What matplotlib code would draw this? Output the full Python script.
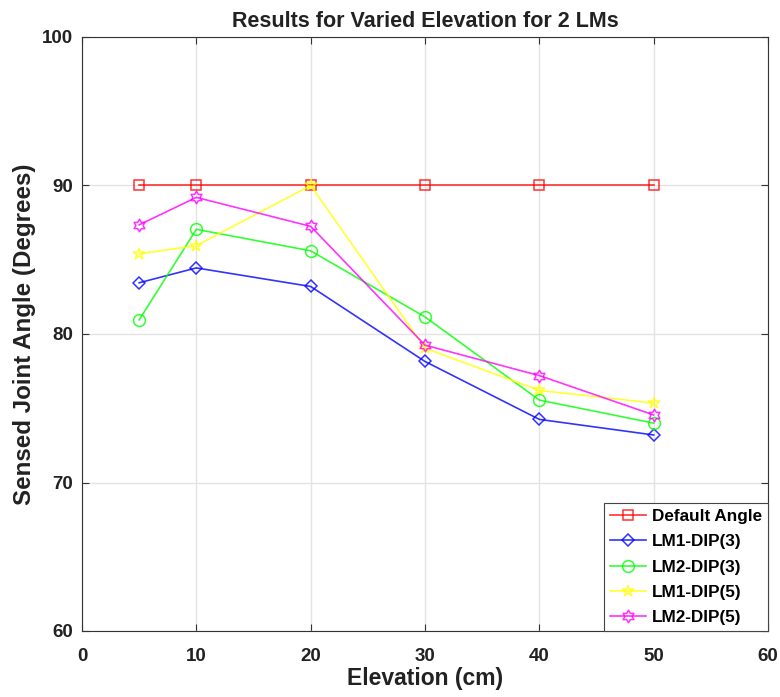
import matplotlib
matplotlib.use("Agg")
import matplotlib.pyplot as plt
import numpy as np
from matplotlib.path import Path

elevation = [5, 10, 20, 30, 40, 50]
default_angle = [90, 90, 90, 90, 90, 90]
lm1_dip3 = [83.45, 84.45, 83.2, 78.15, 74.25, 73.2]
lm2_dip3 = [80.95, 87.05, 85.6, 81.15, 75.55, 74.0]
lm1_dip5 = [85.4, 85.95, 90.0, 79.05, 76.2, 75.35]
lm2_dip5 = [87.35, 89.2, 87.25, 79.25, 77.2, 74.55]

xticks = [0, 10, 20, 30, 40, 50, 60]
yticks = [60, 70, 80, 90, 100]

# hexagram marker (six-pointed star), like MATLAB 'h'
ang = np.deg2rad(90 + 30 * np.arange(12))
rad = np.where(np.arange(12) % 2 == 0, 1.0, 1 / np.sqrt(3))
verts = np.column_stack([rad * np.cos(ang), rad * np.sin(ang)])
verts = np.vstack([verts, verts[:1]])
hexagram = Path(verts, [Path.MOVETO] + [Path.LINETO] * 11 + [Path.CLOSEPOLY])

plt.rcParams['font.family'] = ['Liberation Sans', 'DejaVu Sans']

fig = plt.figure(figsize=(7.8, 6.97), dpi=100)
ax = fig.add_axes([82/780, 1-631/697, (768-82)/780, (631-37)/697])

series = [
    (default_angle, '#ff0000', 's', 'Default Angle', 6.5),
    (lm1_dip3, '#0000ff', 'D', 'LM1-DIP(3)', 6.5),
    (lm2_dip3, '#00ff00', 'o', 'LM2-DIP(3)', 8.5),
    (lm1_dip5, '#ffff00', '*', 'LM1-DIP(5)', 9),
    (lm2_dip5, '#ff00ff', hexagram, 'LM2-DIP(5)', 9),
]
for vals, col, mk, lab, ms in series:
    ax.plot(elevation, vals, color=col, marker=mk, markersize=ms,
            markerfacecolor='none', markeredgecolor=col, linewidth=1.2,
            markeredgewidth=1.1, label=lab, alpha=0.8)

ax.set_xlim(0, 60)
ax.set_ylim(60, 100)
ax.set_xticks(xticks)
ax.set_yticks(yticks)
ax.tick_params(direction='in', top=True, right=True, labelsize=13.5, length=5,
               color='#333333')
ax.tick_params(axis='x', pad=12)
ax.tick_params(axis='y', pad=6.5)
for lbl in ax.get_xticklabels() + ax.get_yticklabels():
    lbl.set_fontweight('bold')
    lbl.set_color('#222222')
ax.grid(True, color='#e3e3e3', linewidth=1.0)
for s in ax.spines.values():
    s.set_color('#333333')
    s.set_linewidth(0.8)

ax.set_title('Results for Varied Elevation for 2 LMs', fontsize=15.5,
             fontweight='bold', pad=7, color='#222222')
ax.set_xlabel('Elevation (cm)', fontsize=16.5, fontweight='bold', labelpad=2,
              color='#222222')
ax.set_ylabel('Sensed Joint Angle (Degrees)', fontsize=17.4, fontweight='bold',
              labelpad=4, color='#222222')

leg = ax.legend(loc='lower right', prop={'weight': 'bold', 'size': 12.3},
                fancybox=False, framealpha=1, edgecolor='#444444',
                borderaxespad=0.0, handlelength=2.1, labelspacing=0.6,
                handletextpad=0.35, borderpad=0.35)
leg.get_frame().set_linewidth(0.8)

fig.savefig('out.png', dpi=100)
